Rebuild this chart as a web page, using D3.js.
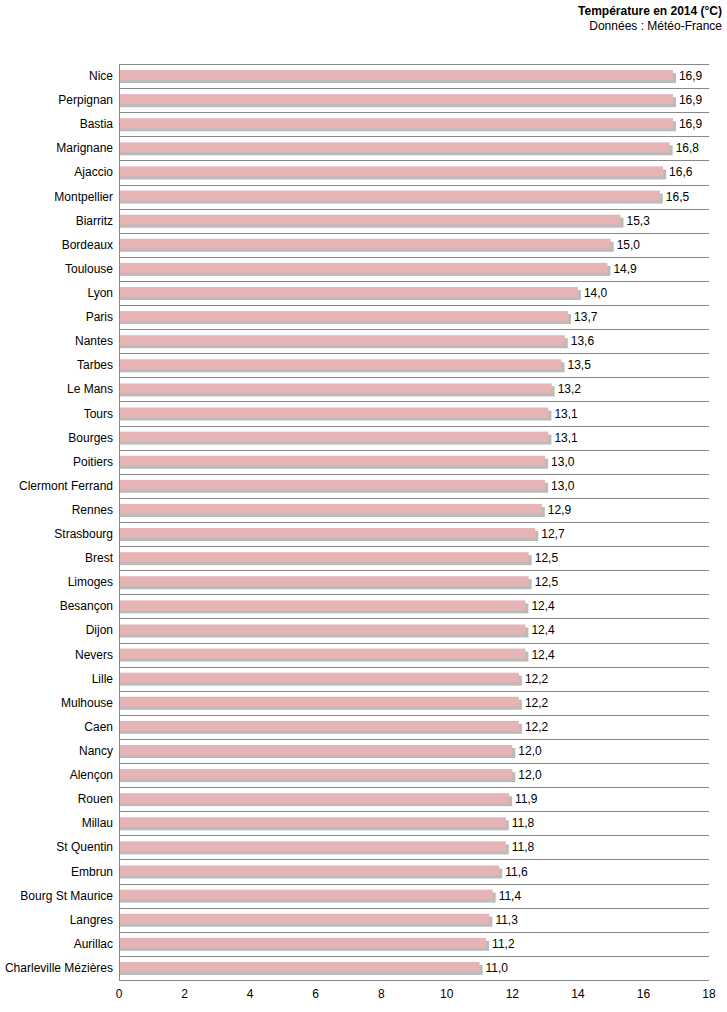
<!DOCTYPE html>
<html><head><meta charset="utf-8">
<script src="https://cdn.jsdelivr.net/npm/d3@7"></script>
<style>body{margin:0;background:#fff}text{font-family:"Liberation Sans",Arial,sans-serif;font-size:12px;fill:#000}</style>
</head><body><svg id="c" width="727" height="1012"></svg>
<script>
var cities = ["Nice","Perpignan","Bastia","Marignane","Ajaccio","Montpellier","Biarritz","Bordeaux","Toulouse","Lyon","Paris","Nantes","Tarbes","Le Mans","Tours","Bourges","Poitiers","Clermont Ferrand","Rennes","Strasbourg","Brest","Limoges","Besançon","Dijon","Nevers","Lille","Mulhouse","Caen","Nancy","Alençon","Rouen","Millau","St Quentin","Embrun","Bourg St Maurice","Langres","Aurillac","Charleville Mézières"];
var temps = [16.9,16.9,16.9,16.8,16.6,16.5,15.3,15.0,14.9,14.0,13.7,13.6,13.5,13.2,13.1,13.1,13.0,13.0,12.9,12.7,12.5,12.5,12.4,12.4,12.4,12.2,12.2,12.2,12.0,12.0,11.9,11.8,11.8,11.6,11.4,11.3,11.2,11.0];
var xTicks = [0,2,4,6,8,10,12,14,16,18];

(function () {
var svg = d3.select("#c");
var mLeft = 119, mRight = 709, mTop = 64, mBottom = 980;
var x = d3.scaleLinear().domain([0,18]).range([mLeft,mRight]);
var y = d3.scaleBand().domain(cities).range([mTop,mBottom]);

svg.append("text").attr("x",722).attr("y",15).attr("text-anchor","end").style("font-weight","bold").text("Température en 2014 (°C)");
svg.append("text").attr("x",722).attr("y",30).attr("text-anchor","end").text("Données : Météo-France");

// row separators
svg.selectAll("line.sep").data(d3.range(cities.length+1)).enter().append("line")
  .attr("x1",mLeft).attr("x2",mRight)
  .attr("y1",function(i){return Math.round(mTop+i*y.step())+0.5;})
  .attr("y2",function(i){return Math.round(mTop+i*y.step())+0.5;})
  .attr("stroke","#888").attr("stroke-width",1);
svg.append("line").attr("x1",mLeft+0.5).attr("x2",mLeft+0.5).attr("y1",mTop).attr("y2",mBottom).attr("stroke","#888");

var g = svg.selectAll("g.bar").data(cities).enter().append("g");
g.append("rect").attr("x",mLeft+1).attr("y",function(d){return y(d)+y.bandwidth()/2-3;})
  .attr("width",function(d,i){return x(temps[i])-mLeft+2;}).attr("height",10).attr("fill","#bbb");
g.append("rect").attr("x",mLeft+1).attr("y",function(d){return y(d)+y.bandwidth()/2-6;})
  .attr("width",function(d,i){return x(temps[i])-mLeft-1;}).attr("height",10).attr("fill","#e6b4b4");
g.append("text").attr("x",function(d,i){return x(temps[i])+6;}).attr("y",function(d){return y(d)+y.bandwidth()/2+4;})
  .text(function(d,i){return temps[i].toFixed(1).replace(".",",");});
g.append("text").attr("x",mLeft-6).attr("y",function(d){return y(d)+y.bandwidth()/2+4;})
  .attr("text-anchor","end").text(function(d){return d;});

svg.selectAll("text.xt").data(xTicks).enter().append("text")
  .attr("x",function(d){return x(d);}).attr("y",998).attr("text-anchor","middle").text(function(d){return d;});
})();
</script></body></html>
